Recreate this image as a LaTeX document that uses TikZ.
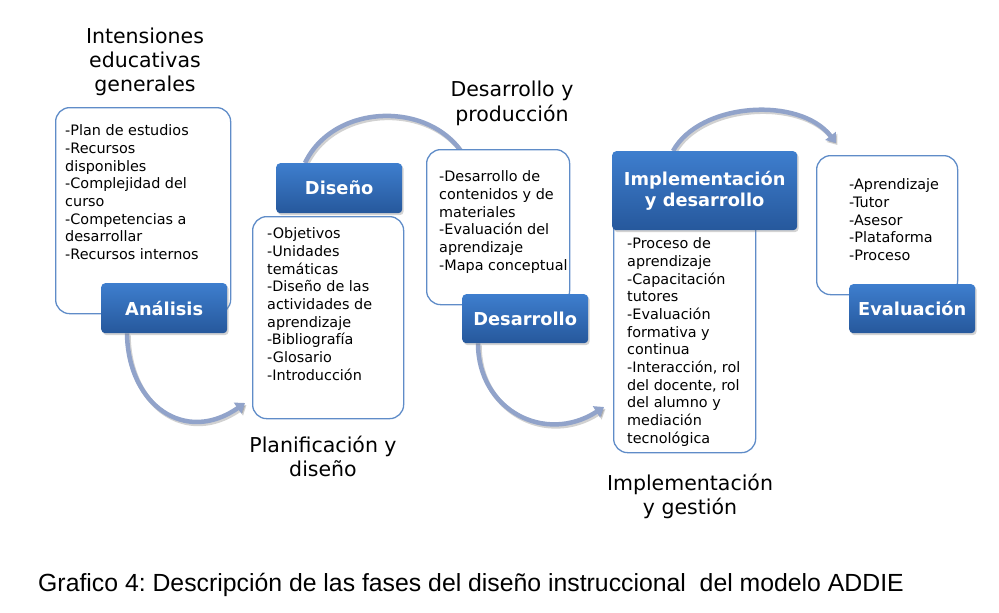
\documentclass[tikz,border=0pt]{standalone}
\usepackage{fontspec}
\setmainfont{DejaVu Sans}
\newfontfamily\capfont{Liberation Sans}
\usetikzlibrary{shadows,arrows.meta}
\definecolor{boxline}{RGB}{95,140,200}
\definecolor{lbltop}{RGB}{62,126,206}
\definecolor{lblbot}{RGB}{38,88,156}
\definecolor{arrowc}{RGB}{145,163,202}
\pgfdeclarelayer{background}
\pgfsetlayers{background,main}
\frenchspacing
\begin{document}
\begin{tikzpicture}[x=1pt,y=-1pt,
  cbox/.style={draw=boxline, line width=1.3pt, rounded corners=14pt, fill=white, anchor=north west, inner sep=0pt},
  lbl/.style={rounded corners=4pt, top color=lbltop, bottom color=lblbot, text=white,
    font=\bfseries\fontsize{17.8}{21}\selectfont, anchor=north west, inner sep=0pt, align=center,
    drop shadow={opacity=0.35,shadow xshift=1.5pt,shadow yshift=-2pt}},
  body/.style={anchor=north west, inner sep=0pt, align=left, font=\fontsize{14.4}{17.7}\selectfont},
  head/.style={anchor=north, align=center, inner sep=0pt, font=\fontsize{20.5}{24.3}\selectfont},
  flow/.style={draw=arrowc, line width=4.5pt, -{Triangle[length=9pt,width=13pt]}},
  flowshadow/.style={draw=black, opacity=0.18, line width=4.5pt, -{Triangle[length=9pt,width=13pt]},
    transform canvas={shift={(1.5pt,-2pt)}}}
]
\useasboundingbox (0,0) rectangle (999,613);

% content boxes
\node[cbox, minimum width=175pt, minimum height=206pt] (c1) at (55,107) {};
\node[cbox, minimum width=151pt, minimum height=202pt] (c2) at (252,216) {};
\node[cbox, minimum width=143pt, minimum height=155pt] (c3) at (426,149) {};
\node[cbox, minimum width=142pt, minimum height=236pt] (c4) at (613,216) {};
\node[cbox, minimum width=141pt, minimum height=139pt] (c5) at (816,155) {};

% body texts
\node[body] (t1) at (65,124.5) {-Plan de estudios\\-Recursos\\disponibles\\-Complejidad del\\curso\\-Competencias a\\desarrollar\\-Recursos internos};
\node[body] (t2) at (267,227.5) {-Objetivos\\-Unidades\\temáticas\\-Diseño de las\\actividades de\\aprendizaje\\-Bibliografía\\-Glosario\\-Introducción};
\node[body] (t3) at (439,170.5) {-Desarrollo de\\contenidos y de\\materiales\\-Evaluación del\\aprendizaje\\-Mapa conceptual};
\node[body] (t4) at (627,237.5) {-Proceso de\\aprendizaje\\-Capacitación\\tutores\\-Evaluación\\formativa y\\continua\\-Interacción, rol\\del docente, rol\\del alumno y\\mediación\\tecnológica};
\node[body] (t5) at (849,178.5) {-Aprendizaje\\-Tutor\\-Asesor\\-Plataforma\\-Proceso};

% labels
\node[lbl, minimum width=126pt, minimum height=50pt] (l1) at (101,283) {Análisis};
\node[lbl, minimum width=126pt, minimum height=50pt] (l2) at (276,163) {Diseño};
\node[lbl, minimum width=126pt, minimum height=49pt] (l3) at (462,294) {Desarrollo};
\node[lbl, minimum width=185pt, minimum height=79pt] (l4) at (612,151) {Implementación\\y desarrollo};
\node[lbl, minimum width=126pt, minimum height=49pt] (l5) at (849,284) {Evaluación};

% headings
\node[head] (h1) at (145,27.5) {Intensiones\\educativas\\generales};
\node[head] (h2) at (512,81) {Desarrollo y\\producción};
\node[head] (h3) at (323,436) {Planificación y\\diseño};
\node[head] (h4) at (690,474) {Implementación\\y gestión};

% caption
\node[anchor=base west, inner sep=0pt, font=\capfont\fontsize{24.8}{28}\selectfont] (cap) at (38,591)
  {Grafico 4: Descripción de las fases del diseño instruccional\ \ del modelo ADDIE};

% arrow end points
\coordinate (e1) at (245,403);
\coordinate (e2) at (472,172);
\coordinate (e3) at (604,407);
\coordinate (e4) at (836,143);

\begin{pgfonlayer}{background}
\foreach \s in {flowshadow,flow}{
  \draw[\s] ([xshift=26pt]l1.south west) .. controls (128,405) and (185,445) .. (e1);
  \draw[\s] ([xshift=29pt]l2.north west) .. controls (335,100) and (440,100) .. (e2);
  \draw[\s] ([xshift=16pt]l3.south west) .. controls (478,410) and (545,445) .. (e3);
  \draw[\s] ([xshift=61pt]l4.north west) .. controls (700,102) and (800,96) .. (e4);
}
\end{pgfonlayer}
\end{tikzpicture}
\end{document}
